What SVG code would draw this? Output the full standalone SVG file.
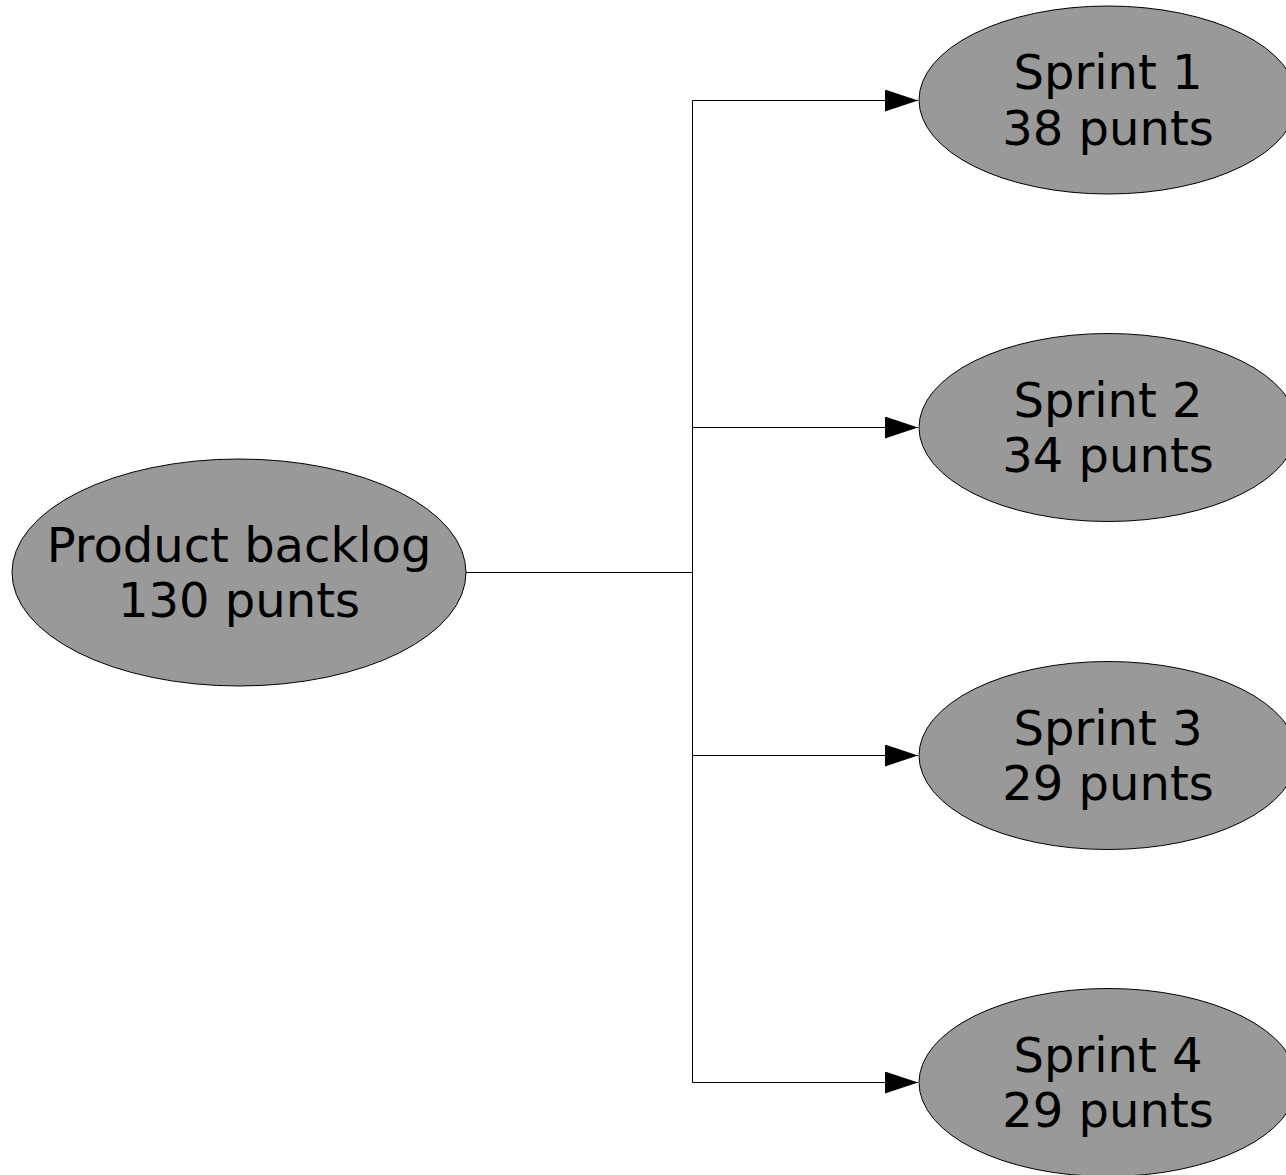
<svg xmlns="http://www.w3.org/2000/svg" width="1286" height="1175" viewBox="0 0 1286 1175">
<defs>
<style>
.node ellipse{fill:#999999;stroke:#000;stroke-width:1}
.node text{font-family:"DejaVu Sans",sans-serif;font-size:48px;fill:#000;text-anchor:middle}
.edges path{fill:none;stroke:#000;stroke-width:1}
</style>
<marker id="arr" markerWidth="34" markerHeight="22" refX="33" refY="11" orient="auto" markerUnits="userSpaceOnUse">
<polygon points="0,0 33,11 0,22" fill="#000"/>
</marker>
</defs>
<rect width="1286" height="1175" fill="#fff"/>
<g class="edges" id="connectors">
<path d="M466,572.5 H692.5"/>
<path d="M692.5,100.5 V1082.5"/>
<path d="M692.5,100.5 H918" marker-end="url(#arr)"/>
<path d="M692.5,427.5 H918" marker-end="url(#arr)"/>
<path d="M692.5,755.5 H918" marker-end="url(#arr)"/>
<path d="M692.5,1082.5 H918" marker-end="url(#arr)"/>
</g>
<g class="node" id="backlog">
<ellipse cx="239" cy="572.5" rx="227" ry="113.5"/>
<text x="239" y="562">Product backlog</text>
<text x="239" y="617">130 punts</text>
</g>
<g class="node" id="sprint1">
<ellipse cx="1108" cy="100" rx="189" ry="94"/>
<text x="1108" y="89">Sprint 1</text>
<text x="1108" y="145">38 punts</text>
</g>
<g class="node" id="sprint2">
<ellipse cx="1108" cy="427.5" rx="189" ry="94"/>
<text x="1108" y="417">Sprint 2</text>
<text x="1108" y="472">34 punts</text>
</g>
<g class="node" id="sprint3">
<ellipse cx="1108" cy="755.5" rx="189" ry="94"/>
<text x="1108" y="745">Sprint 3</text>
<text x="1108" y="800">29 punts</text>
</g>
<g class="node" id="sprint4">
<ellipse cx="1108" cy="1082.5" rx="189" ry="94"/>
<text x="1108" y="1072">Sprint 4</text>
<text x="1108" y="1127">29 punts</text>
</g>
</svg>
